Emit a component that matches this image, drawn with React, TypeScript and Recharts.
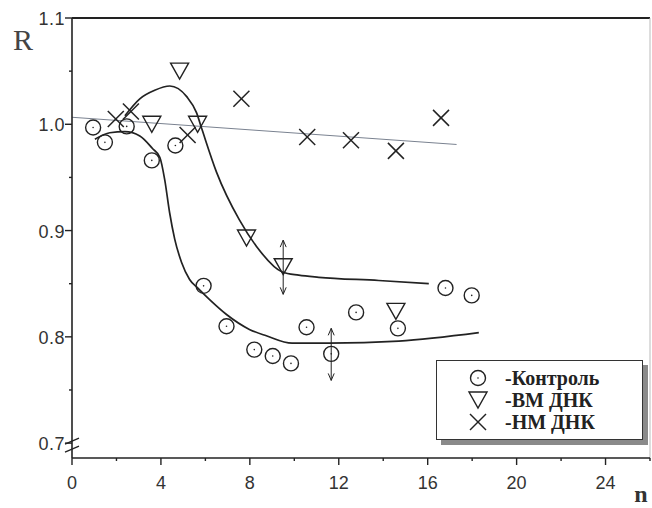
import React from "react";
import { ComposedChart, Line, Scatter, XAxis, YAxis, ReferenceLine, Legend } from "recharts";

// measured points, n vs R
const controlN = [0.95, 1.48, 2.46, 3.59, 4.65, 5.92, 6.95, 8.2, 9.03, 9.85, 10.55, 11.66, 12.78, 14.66, 16.8, 17.98];
const controlR = [0.997, 0.983, 0.998, 0.966, 0.98, 0.848, 0.81, 0.788, 0.782, 0.775, 0.809, 0.784, 0.823, 0.808, 0.846, 0.839];
const vmN = [3.59, 4.84, 5.65, 7.85, 9.5, 14.57];
const vmR = [1.0, 1.05, 1.0, 0.893, 0.866, 0.824];
const nmN = [1.97, 2.65, 5.2, 7.62, 10.58, 12.55, 14.57, 16.6];
const nmR = [1.005, 1.012, 0.99, 1.024, 0.988, 0.985, 0.975, 1.006];

// fitted curves
const controlFitN = [1.03, 1.7, 2.38, 3.05, 3.63, 3.95, 4.17, 4.39, 4.62, 4.93, 5.29, 5.65, 6.19, 6.95, 7.98, 8.74, 9.9, 11.57, 14.7, 18.3];
const controlFitR = [0.986, 0.992, 0.993, 0.989, 0.977, 0.969, 0.948, 0.917, 0.892, 0.87, 0.854, 0.846, 0.835, 0.821, 0.807, 0.801, 0.794, 0.794, 0.796, 0.804];
const vmFitN = [2.38, 3.05, 3.72, 4.4, 5.16, 5.6, 5.85, 6.5, 7.53, 8.3, 9.46, 10.2, 11.1, 13.8, 16.05];
const vmFitR = [1.008, 1.024, 1.032, 1.036, 1.026, 1.011, 0.995, 0.955, 0.91, 0.885, 0.861, 0.858, 0.856, 0.853, 0.85];
const nmFitN = [0, 17.3];
const nmFitR = [1.0066, 0.981];

// error arrows
const errN = [9.5, 11.66];
const errLow = [0.84, 0.759];
const errHigh = [0.891, 0.808];

const xTicks = [0, 2, 4, 6, 8, 10, 12, 14, 16, 18, 20, 22, 24, 26];
const yTicks = [0.7, 0.75, 0.8, 0.85, 0.9, 0.95, 1.0, 1.05, 1.1];
const yLabels = ["0.7", "", "0.8", "", "0.9", "", "1.0", "", "1.1"];

const zip = (xs: number[], ys: number[]) => xs.map((x, i) => ({ x, y: ys[i] }));

const INK = "#222";
const sansFont = "'Liberation Sans', Arial, sans-serif";
const serifFont = "'Liberation Serif', 'DejaVu Serif', serif";

const CircleMark = ({ cx, cy }: any) => (
  <g>
    <circle cx={cx} cy={cy} r={7.5} fill="none" stroke={INK} strokeWidth={1.4} />
    <circle cx={cx} cy={cy} r={0.8} fill={INK} />
  </g>
);

const TriangleMark = ({ cx, cy }: any) => (
  <polygon
    points={`${cx - 9},${cy - 8} ${cx + 9},${cy - 8} ${cx},${cy + 8}`}
    fill="none"
    stroke={INK}
    strokeWidth={1.4}
  />
);

const CrossMark = ({ cx, cy }: any) => (
  <g stroke={INK} strokeWidth={1.5}>
    <line x1={cx - 8} y1={cy - 8} x2={cx + 8} y2={cy + 8} />
    <line x1={cx - 8} y1={cy + 8} x2={cx + 8} y2={cy - 8} />
  </g>
);

const arrowShape = (top: number) => (props: any) => {
  const { cx, cy, payload } = props;
  const up = payload.y === top;
  const d = up ? 1 : -1;
  return (
    <polyline
      points={`${cx - 3},${cy + d * 7} ${cx},${cy} ${cx + 3},${cy + d * 7}`}
      fill="none"
      stroke={INK}
      strokeWidth={1}
    />
  );
};

const XTick = ({ x, y, payload }: any) => {
  const v = payload.value;
  const major = v % 4 === 0;
  return (
    <g>
      <line x1={x} y1={y} x2={x} y2={y + (major ? 7 : 3)} stroke={INK} strokeWidth={1.4} />
      {major && v <= 24 && (
        <text x={x} y={y + 31} textAnchor="middle" fontFamily={sansFont} fontSize={18} fill="#333">
          {v}
        </text>
      )}
    </g>
  );
};

const YTick = ({ x, y, index }: any) => {
  const label = yLabels[index];
  const major = label !== "";
  return (
    <g>
      <line x1={x - (major ? 7 : 3)} y1={y} x2={x} y2={y} stroke={INK} strokeWidth={1.4} />
      {major && (
        <text x={x - 7} y={y + 7} textAnchor="end" fontFamily={sansFont} fontSize={18} letterSpacing={0.5} fill="#333">
          {label}
        </text>
      )}
      {index === 0 && (
        <g stroke={INK} strokeWidth={1.4}>
          <line x1={x - 7} y1={y + 1} x2={x + 7} y2={y - 5} />
          <line x1={x - 7} y1={y + 9} x2={x + 7} y2={y + 3} />
        </g>
      )}
    </g>
  );
};

const legendRows = [
  { label: "-Контроль", Mark: CircleMark },
  { label: "-ВМ ДНК", Mark: TriangleMark },
  { label: "-НМ ДНК", Mark: CrossMark },
];

const LegendBox = () => (
  <div
    style={{
      width: 205,
      height: 78,
      border: "1.5px solid #333",
      background: "#fff",
      boxShadow: "5px 5px 0 #8a8a8a",
      position: "relative",
    }}
  >
    {legendRows.map((r, i) => (
      <div key={r.label} style={{ position: "absolute", left: 28, top: 6 + i * 22, height: 22, display: "flex", alignItems: "center" }}>
        <svg width={26} height={22}>
          <r.Mark cx={13} cy={11} />
        </svg>
        <span style={{ fontFamily: serifFont, fontWeight: "bold", fontSize: 20, color: "#222", marginLeft: 14 }}>
          {r.label}
        </span>
      </div>
    ))}
  </div>
);

export default function App() {
  return (
    <div style={{ position: "absolute", left: 0, top: 0, width: 652, height: 508, background: "#fff" }}>
      <ComposedChart width={652} height={508} margin={{ top: 18, right: 2, bottom: 0, left: 0 }}>
        <XAxis
          type="number"
          dataKey="x"
          domain={[0, 26]}
          ticks={xTicks}
          interval={0}
          allowDataOverflow
          height={50}
          tickSize={0}
          tickMargin={0}
          tickLine={false}
          tick={<XTick />}
          axisLine={{ stroke: INK, strokeWidth: 1.6 }}
        />
        <YAxis
          type="number"
          dataKey="y"
          domain={[0.686, 1.1]}
          ticks={yTicks}
          interval={0}
          allowDataOverflow
          width={72}
          tickSize={0}
          tickMargin={0}
          tickLine={false}
          tick={<YTick />}
          axisLine={{ stroke: INK, strokeWidth: 1.6 }}
        />
        <ReferenceLine y={1.1} stroke={INK} strokeWidth={2} />
        <ReferenceLine x={26} stroke="#bbb" strokeWidth={1} />
        <Line data={zip(nmFitN, nmFitR)} dataKey="y" type="linear" stroke="#7a8290" strokeWidth={1} dot={false} isAnimationActive={false} />
        <Line data={zip(controlFitN, controlFitR)} dataKey="y" type="monotone" stroke={INK} strokeWidth={1.7} dot={false} isAnimationActive={false} />
        <Line data={zip(vmFitN, vmFitR)} dataKey="y" type="monotone" stroke={INK} strokeWidth={1.7} dot={false} isAnimationActive={false} />
        {errN.map((n, i) => (
          <Scatter
            key={`err-${i}`}
            data={[{ x: n, y: errHigh[i] }, { x: n, y: errLow[i] }]}
            line={{ stroke: INK, strokeWidth: 1 }}
            lineType="joint"
            shape={arrowShape(errHigh[i])}
            isAnimationActive={false}
            legendType="none"
          />
        ))}
        <Scatter name="-Контроль" data={zip(controlN, controlR)} shape={<CircleMark />} isAnimationActive={false} />
        <Scatter name="-ВМ ДНК" data={zip(vmN, vmR)} shape={<TriangleMark />} isAnimationActive={false} />
        <Scatter name="-НМ ДНК" data={zip(nmN, nmR)} shape={<CrossMark />} isAnimationActive={false} />
        <Legend
          layout="vertical"
          align="center"
          verticalAlign="middle"
          content={<LegendBox />}
          wrapperStyle={{ left: 436, top: 360, width: 212, height: 86 }}
        />
        <text x={23} y={50} textAnchor="middle" fontFamily={serifFont} fontSize={30} fill="#444">
          R
        </text>
        <text x={641} y={502} textAnchor="middle" fontFamily={serifFont} fontWeight="bold" fontSize={24} fill="#333">
          n
        </text>
      </ComposedChart>
    </div>
  );
}
